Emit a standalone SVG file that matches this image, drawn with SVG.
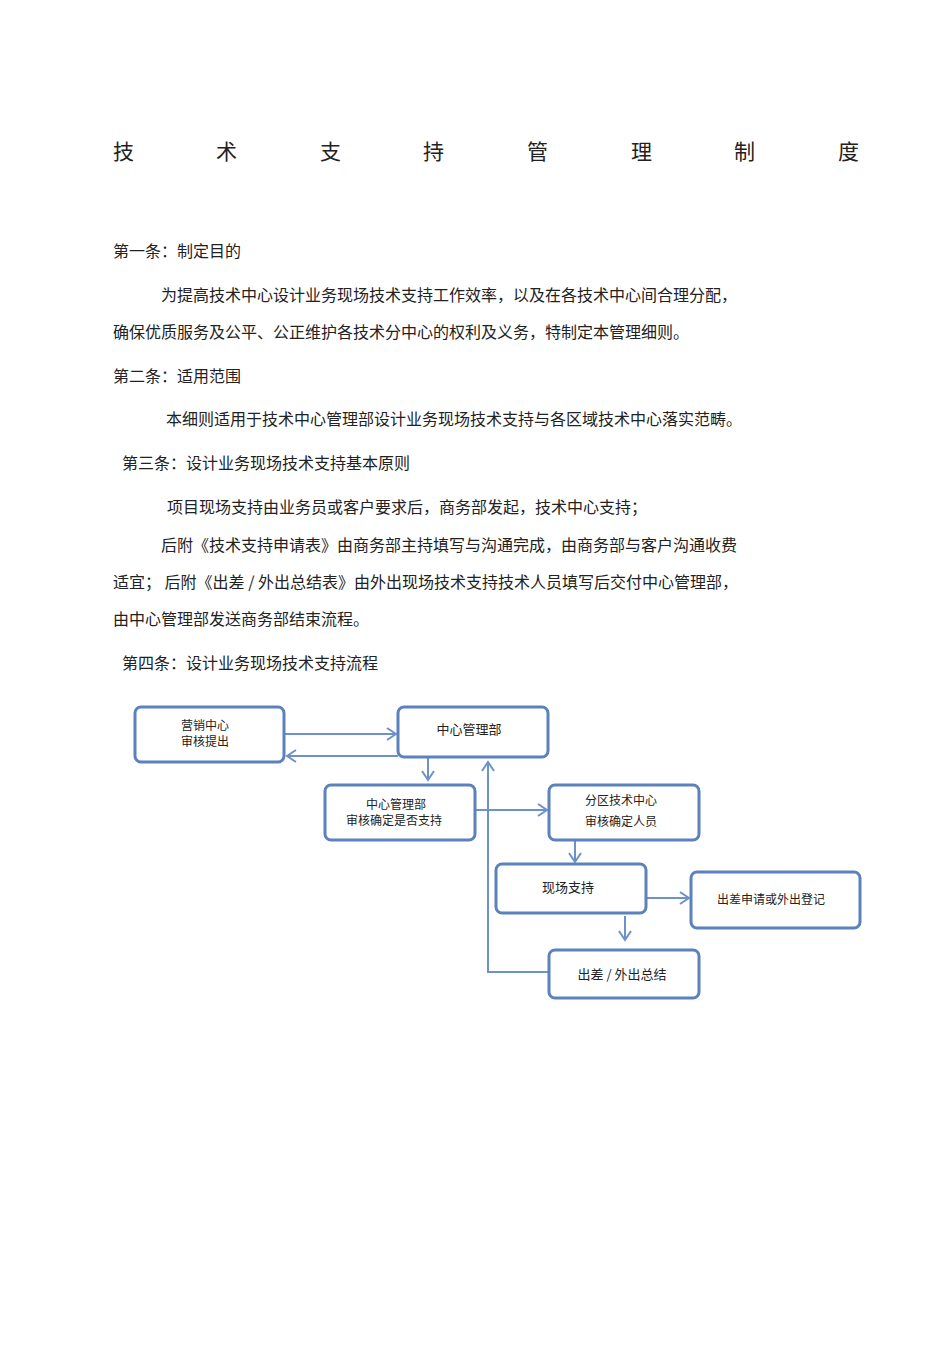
<svg xmlns="http://www.w3.org/2000/svg" width="950" height="1345" viewBox="0 0 950 1345">
<style>
text{font-family:"Noto Sans CJK SC","Noto Sans",sans-serif;fill:#222}
.b{font-size:16px}
.n{font-size:12px}
.box{fill:#fff;stroke:#5b82bd;stroke-width:3}
.c{stroke:#6d92c8;stroke-width:2;fill:none}
</style>
<defs><marker id="a" markerWidth="12" markerHeight="14" refX="10" refY="7" orient="auto" markerUnits="userSpaceOnUse"><path d="M1,1 L10,7 L1,13" fill="none" stroke="#6d92c8" stroke-width="2"/></marker></defs>
<rect width="950" height="1345" fill="#fff"/>
<g font-size="21">
<text x="113" y="159" style="font-size:21px">技</text><text x="216" y="159" style="font-size:21px">术</text><text x="320" y="159" style="font-size:21px">支</text><text x="423" y="159" style="font-size:21px">持</text><text x="527" y="159" style="font-size:21px">管</text><text x="631" y="159" style="font-size:21px">理</text><text x="734" y="159" style="font-size:21px">制</text><text x="838" y="159" style="font-size:21px">度</text>
</g>
<text class="b" x="113" y="257">第一条：制定目的</text>
<text class="b" x="161" y="301">为提高技术中心设计业务现场技术支持工作效率，以及在各技术中心间合理分配，</text>
<text class="b" x="113" y="338">确保优质服务及公平、公正维护各技术分中心的权利及义务，特制定本管理细则。</text>
<text class="b" x="113" y="382">第二条：适用范围</text>
<text class="b" x="166" y="425">本细则适用于技术中心管理部设计业务现场技术支持与各区域技术中心落实范畴。</text>
<text class="b" x="122" y="469">第三条：设计业务现场技术支持基本原则</text>
<text class="b" x="167" y="513">项目现场支持由业务员或客户要求后，商务部发起，技术中心支持；</text>
<text class="b" x="161" y="551">后附《技术支持申请表》由商务部主持填写与沟通完成，由商务部与客户沟通收费</text>
<text class="b" x="113" y="588">适宜；    后附《出差 / 外出总结表》由外出现场技术支持技术人员填写后交付中心管理部，</text>
<text class="b" x="113" y="625">由中心管理部发送商务部结束流程。</text>
<text class="b" x="122" y="669">第四条：设计业务现场技术支持流程</text>
<g id="connectors">
<line class="c" x1="285" y1="734" x2="396" y2="734" marker-end="url(#a)"/>
<line class="c" x1="398" y1="756" x2="287" y2="756" marker-end="url(#a)"/>
<line class="c" x1="428" y1="758" x2="428" y2="780" marker-end="url(#a)"/>
<line class="c" x1="476" y1="810" x2="547" y2="810" marker-end="url(#a)"/>
<line class="c" x1="575" y1="841" x2="575" y2="862" marker-end="url(#a)"/>
<line class="c" x1="647" y1="898" x2="689" y2="898" marker-end="url(#a)"/>
<line class="c" x1="625" y1="916" x2="625" y2="940" marker-end="url(#a)"/>
<polyline class="c" points="549,972 488,972 488,762" marker-end="url(#a)"/>
</g>
<g id="n1"><rect class="box" x="135" y="707" width="149" height="55" rx="6"/><text class="n" x="205" y="730" text-anchor="middle">营销中心</text><text class="n" x="205" y="746" text-anchor="middle">审核提出</text></g>
<g id="n2"><rect class="box" x="398" y="707" width="150" height="50" rx="6"/><text x="469" y="734" text-anchor="middle" style="font-size:13px">中心管理部</text></g>
<g id="n3"><rect class="box" x="325" y="785" width="150" height="55" rx="6"/><text class="n" x="396" y="809" text-anchor="middle">中心管理部</text><text class="n" x="394" y="825" text-anchor="middle">审核确定是否支持</text></g>
<g id="n4"><rect class="box" x="549" y="785" width="150" height="55" rx="6"/><text class="n" x="621" y="805" text-anchor="middle">分区技术中心</text><text class="n" x="621" y="826" text-anchor="middle">审核确定人员</text></g>
<g id="n5"><rect class="box" x="496" y="864" width="150" height="49" rx="6"/><text x="568" y="892" text-anchor="middle" style="font-size:13px">现场支持</text></g>
<g id="n6"><rect class="box" x="691" y="872" width="169" height="56" rx="6"/><text class="n" x="771" y="904" text-anchor="middle">出差申请或外出登记</text></g>
<g id="n7"><rect class="box" x="549" y="950" width="150" height="48" rx="6"/><text x="622" y="979" text-anchor="middle" style="font-size:13px">出差 / 外出总结</text></g>
</svg>
